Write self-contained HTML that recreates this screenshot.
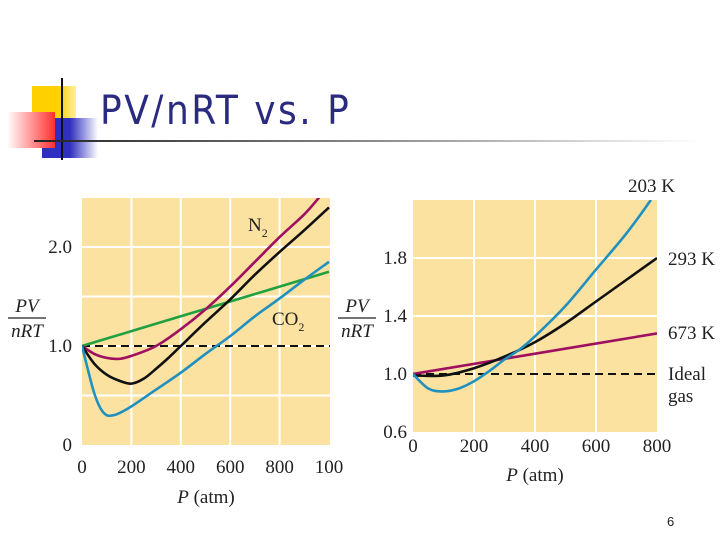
<!DOCTYPE html>
<html><head><meta charset="utf-8"><style>
body{margin:0;background:#fff;}
#wrap{position:relative;width:720px;height:540px;overflow:hidden;background:#fff;font-family:"Liberation Serif",serif;}
</style></head><body>
<div id="wrap">
<div style="position:absolute;left:32px;top:86px;width:44px;height:36px;background:linear-gradient(90deg,#ffd000 60%,#fff0a0);"></div>
<div style="position:absolute;left:42px;top:118px;width:56px;height:40px;background:linear-gradient(90deg,#3030c0 50%,#fff);"></div>
<div style="position:absolute;left:7px;top:112px;width:48px;height:36px;background:linear-gradient(90deg,#fff,#ff3030);"></div>
<div style="position:absolute;left:61px;top:78px;width:2px;height:82px;background:#111;"></div>
<div style="position:absolute;left:34px;top:140px;width:666px;height:2px;background:linear-gradient(90deg,#222,#888 50%,#fff);"></div>
<div style="position:absolute;left:100px;top:88px;font-family:'DejaVu Sans Condensed','Liberation Sans',sans-serif;font-size:40px;letter-spacing:2.5px;color:#2a2a80;">PV/nRT vs. P</div>
<div style="position:absolute;left:667px;top:514px;font-family:'Liberation Sans',sans-serif;font-size:13px;color:#222;">6</div>
<svg id="chart" width="720" height="540" style="position:absolute;left:0;top:0"></svg>
</div>
<script>
const leftX=[0,200,400,600,800,1000];
const h2Y=[1.0,1.15,1.3,1.45,1.6,1.75];
const n2X=[0,50,100,150,200,300,400,500,600,700,800,900,960];
const n2Y=[1.0,0.92,0.88,0.87,0.9,1.0,1.17,1.37,1.6,1.85,2.1,2.33,2.5];
const ch4X=[0,50,100,150,200,250,300,350,400,500,600,700,800,900,1000];
const ch4Y=[1.0,0.82,0.71,0.65,0.62,0.67,0.77,0.88,1.0,1.24,1.47,1.72,1.95,2.17,2.4];
const co2X=[0,25,50,75,100,125,150,200,300,400,500,600,700,800,900,1000];
const co2Y=[1.0,0.75,0.52,0.37,0.3,0.3,0.32,0.39,0.56,0.73,0.92,1.1,1.3,1.48,1.67,1.85];
const leftXTicks=["0","200","400","600","800","100"];
const leftYTicks=[0,1.0,2.0];
const rX203=[0,50,100,150,200,250,300,350,400,500,600,700,780];
const rY203=[1.0,0.9,0.88,0.9,0.95,1.02,1.1,1.17,1.26,1.47,1.72,1.97,2.2];
const rX293=[0,100,200,300,400,500,600,700,800];
const rY293=[0.99,0.99,1.04,1.12,1.22,1.35,1.5,1.65,1.8];
const rX673=[0,800];
const rY673=[1.0,1.28];
const rightXTicks=[0,200,400,600,800];
const rightYTicks=["0.6","1.0","1.4","1.8"];

const svg=document.getElementById('chart');
const NS='http://www.w3.org/2000/svg';
function mk(t,a,p){const e=document.createElementNS(NS,t);for(const k in a)e.setAttribute(k,a[k]);(p||svg).appendChild(e);return e;}
function path(xs,ys,sx,sy){const P=xs.map((x,i)=>[sx(x),sy(ys[i])]);let d='M'+P[0][0]+','+P[0][1];
 for(let i=0;i<P.length-1;i++){const p0=P[i-1]||P[i],p1=P[i],p2=P[i+1],p3=P[i+2]||p2;
 d+=` C${p1[0]+(p2[0]-p0[0])/6},${p1[1]+(p2[1]-p0[1])/6} ${p2[0]-(p3[0]-p1[0])/6},${p2[1]-(p3[1]-p1[1])/6} ${p2[0]},${p2[1]}`;}return d;}

// Left chart
const lx=v=>82+v*(247/1000), ly=v=>445-v*99;
let e=mk('rect',{x:82,y:198,width:248,height:247,fill:'#fbe2a0'});

[200,400,600,800].forEach(v=>{const g=mk('line',{x1:lx(v),x2:lx(v),y1:198,y2:445,stroke:'#fff','stroke-width':2});});
[0.5,1.0,1.5,2.0].forEach(v=>{const g=mk('line',{x1:82,x2:330,y1:ly(v),y2:ly(v),stroke:'#fff','stroke-width':2});});
e=mk('line',{x1:82,x2:330,y1:ly(1),y2:ly(1),stroke:'#111','stroke-width':2,'stroke-dasharray':'8,5'});

const clipL=mk('clipPath',{id:'cl'});mk('rect',{x:82,y:198,width:248,height:247},clipL);
[[leftX,h2Y,'#20a040','h2'],[n2X,n2Y,'#a01060','n2'],[ch4X,ch4Y,'#111','ch4'],[co2X,co2Y,'#2090c0','co2']].forEach(s=>{
 const p=mk('path',{d:path(s[0],s[1],lx,ly),fill:'none',stroke:s[2],'stroke-width':2.6,'clip-path':'url(#cl)'});
 });
leftXTicks.forEach((t,i)=>{const x=mk('text',{x:lx(i*200),y:473,'font-size':19,'text-anchor':'middle',fill:'#222'});x.textContent=t;});
leftYTicks.forEach(v=>{const x=mk('text',{x:72,y:ly(v)+6,'font-size':19,'text-anchor':'end',fill:'#222'});x.textContent=v===0?'0':v.toFixed(1);});
function lbl(x,y,html,name,anchor){const t=mk('text',{x:x,y:y,'font-size':19,fill:'#222','text-anchor':anchor||'start'});t.innerHTML=html;return t;}
lbl(206,503,'<tspan font-style="italic">P</tspan> (atm)','left-x-axis-title','middle');
lbl(248,231,'N<tspan font-size="12" dy="6">2</tspan>','label-n2');
lbl(272,325,'CO<tspan font-size="12" dy="6">2</tspan>','label-co2');
function frac(x,name){lbl(x,312,'<tspan font-style="italic">PV</tspan>',name+'-num','middle');
 const l=mk('line',{x1:x-19,x2:x+19,y1:318,y2:318,stroke:'#222','stroke-width':1.3});
 lbl(x,337,'<tspan font-style="italic">nRT</tspan>',name+'-den','middle');}
frac(27,'left-y-axis-title');frac(357,'right-y-axis-title');

// Right chart
const rx=v=>413+v*(244/800), ry=v=>374-(v-1)*145;
e=mk('rect',{x:413,y:200,width:244,height:232,fill:'#fbe2a0'});

[200,400,600].forEach(v=>{const g=mk('line',{x1:rx(v),x2:rx(v),y1:200,y2:432,stroke:'#fff','stroke-width':2});});
[1.4,1.8].forEach(v=>{const g=mk('line',{x1:413,x2:657,y1:ry(v),y2:ry(v),stroke:'#fff','stroke-width':2});});
e=mk('line',{x1:413,x2:657,y1:ry(1),y2:ry(1),stroke:'#111','stroke-width':2,'stroke-dasharray':'8,5'});

const clipR=mk('clipPath',{id:'cr'});mk('rect',{x:413,y:200,width:244,height:232},clipR);
[[rX673,rY673,'#a01060','673k'],[rX293,rY293,'#111','293k'],[rX203,rY203,'#2090c0','203k']].forEach(s=>{
 const p=mk('path',{d:path(s[0],s[1],rx,ry),fill:'none',stroke:s[2],'stroke-width':2.6,'clip-path':'url(#cr)'});
 });
rightXTicks.forEach(v=>{const x=mk('text',{x:rx(v),y:452,'font-size':19,'text-anchor':'middle',fill:'#222'});x.textContent=String(v);});
rightYTicks.forEach(t=>{const x=mk('text',{x:407,y:ry(parseFloat(t))+6,'font-size':19,'text-anchor':'end',fill:'#222'});x.textContent=t;});
lbl(535,481,'<tspan font-style="italic">P</tspan> (atm)','right-x-axis-title','middle');
lbl(628,192,'203 K','label-203k');
lbl(668,265,'293 K','label-293k');
lbl(668,339,'673 K','label-673k');
lbl(668,380,'Ideal','label-ideal');
lbl(668,402,'gas','label-gas');
</script>
</body></html>
